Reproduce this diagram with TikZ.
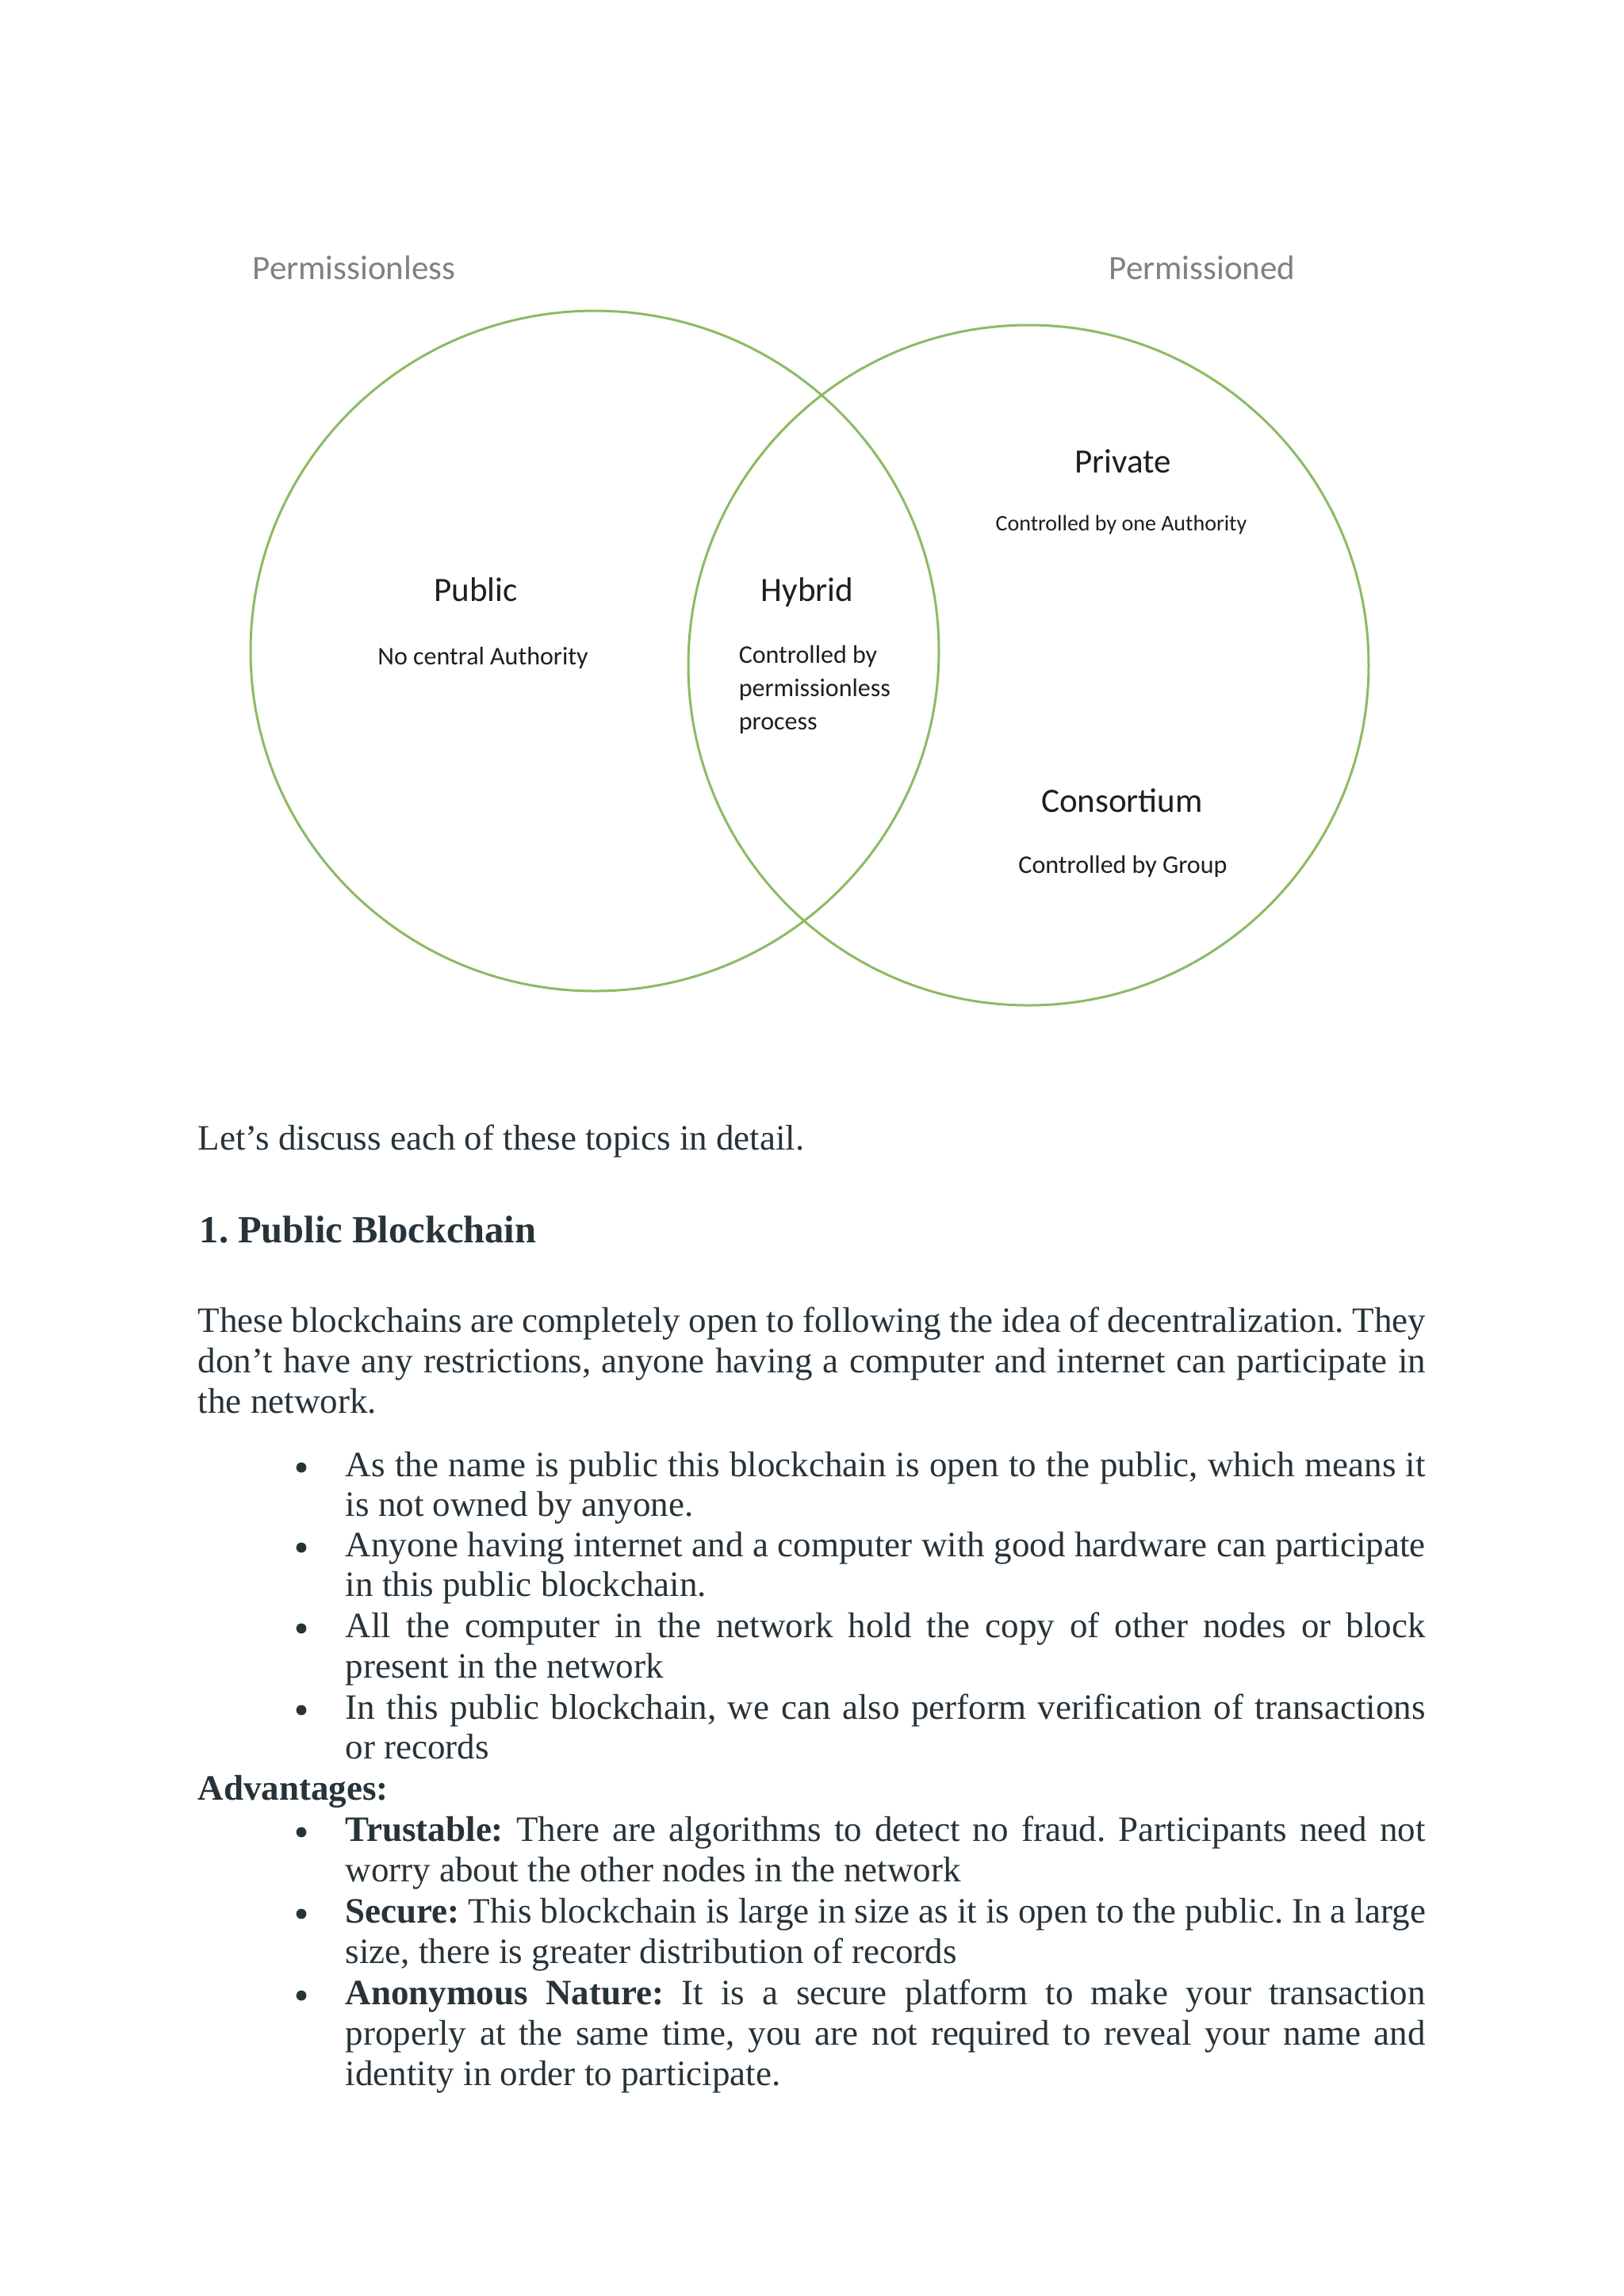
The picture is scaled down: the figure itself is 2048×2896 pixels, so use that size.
\documentclass[tikz,border=0pt]{standalone}
\usepackage{fontspec}
\setmainfont{Liberation Serif}
\newfontfamily\vennfont{Carlito}
\definecolor{gfgtext}{HTML}{273239}
\definecolor{venngreen}{HTML}{8CBB63}
\definecolor{venngray}{HTML}{808080}
\definecolor{venntext}{HTML}{1E1E1E}
\frenchspacing
\begin{document}
\frenchspacing
\begin{tikzpicture}[x=0.25pt,y=-0.25pt,
  body/.style={inner sep=0pt, anchor=base west, text=gfgtext, font=\fontsize{11.25}{12.8}\selectfont},
  heading/.style={inner sep=0pt, anchor=base west, text=gfgtext, font=\fontsize{12.125}{14}\selectfont\bfseries},
  bul/.style={circle, fill=gfgtext, inner sep=0pt, minimum size=3.2pt},
  vgray/.style={inner sep=0pt, anchor=base west, text=venngray, font=\vennfont\fontsize{10.75}{12}\selectfont},
  vhead/.style={inner sep=0pt, anchor=base, text=venntext, font=\vennfont\fontsize{10.75}{12}\selectfont},
  vsmall/.style={inner sep=0pt, anchor=base, text=venntext, font=\vennfont\fontsize{8}{10}\selectfont},
  vring/.style={draw=venngreen, line width=0.75pt}]
\useasboundingbox (0,0) rectangle (2048,2896);
\fill[white] (0,0) rectangle (2048,2896);

% Venn diagram
\draw[vring] (750,821) ellipse [x radius=108.5pt, y radius=107.25pt];
\draw[vring] (1297,839) circle [radius=107.25pt];

\node[vgray] (permless) at (318,352) {Permissionless};
\node[vgray] (permed) at (1398,352) {Permissioned};

\node[vhead] (public) at (600,758) {Public};
\node[vsmall] (publicdesc) at (609,838) {No central Authority};

\node[vhead] (hybrid) at (1018,758) {Hybrid};
\node[vsmall, anchor=base west] (hyb1) at (931,836) {Controlled by};
\node[vsmall, anchor=base west] (hyb2) at (931,878) {permissionless};
\node[vsmall, anchor=base west] (hyb3) at (931,920) {process};

\node[vhead] (private) at (1416,596) {Private};
\node[vsmall, font=\vennfont\fontsize{7}{9}\selectfont] (privdesc) at (1414,669) {Controlled by one Authority};
\node[vhead] (consort) at (1415,1024) {Consortium};
\node[vsmall] (consdesc) at (1416,1101) {Controlled by Group};

% Text
\node[body] (intro) at (249,1450) {Let’s discuss each of these topics in detail.};
\node[heading] (head) at (251,1567) {1. Public Blockchain};

\node[body] (p1) at (249,1680) {\makebox[387pt][s]{These blockchains are completely open to following the idea of decentralization. They}};
\node[body] (p2) at (249,1731) {\makebox[387pt][s]{don’t have any restrictions, anyone having a computer and internet can participate in}};
\node[body] (p3) at (249,1782) {the network.};

\node[bul] (bu1) at (380,1851) {};
\node[body] (l1a) at (435,1862) {\makebox[340.5pt][s]{As the name is public this blockchain is open to the public, which means it}};
\node[body] (l1b) at (435,1912) {is not owned by anyone.};
\node[bul] (bu2) at (380,1952) {};
\node[body] (l2a) at (435,1963) {\makebox[340.5pt][s]{Anyone having internet and a computer with good hardware can participate}};
\node[body] (l2b) at (435,2013) {in this public blockchain.};
\node[bul] (bu3) at (380,2054) {};
\node[body] (l3a) at (435,2065) {\makebox[340.5pt][s]{All the computer in the network hold the copy of other nodes or block}};
\node[body] (l3b) at (435,2116) {present in the network};
\node[bul] (bu4) at (380,2157) {};
\node[body] (l4a) at (435,2168) {\makebox[340.5pt][s]{In this public blockchain, we can also perform verification of transactions}};
\node[body] (l4b) at (435,2218) {or records};

\node[body] (adv) at (249,2270) {\textbf{Advantages:}};

\node[bul] (bu5) at (380,2311) {};
\node[body] (a1a) at (435,2322) {\makebox[340.5pt][s]{\textbf{Trustable:} There are algorithms to detect no fraud. Participants need not}};
\node[body] (a1b) at (435,2373) {worry about the other nodes in the network};
\node[bul] (bu6) at (380,2414) {};
\node[body] (a2a) at (435,2425) {\makebox[340.5pt][s]{\textbf{Secure:} This blockchain is large in size as it is open to the public. In a large}};
\node[body] (a2b) at (435,2476) {size, there is greater distribution of records};
\node[bul] (bu7) at (380,2517) {};
\node[body] (a3a) at (435,2528) {\makebox[340.5pt][s]{\textbf{Anonymous Nature:} It is a secure platform to make your transaction}};
\node[body] (a3b) at (435,2579) {\makebox[340.5pt][s]{properly at the same time, you are not required to reveal your name and}};
\node[body] (a3c) at (435,2630) {identity in order to participate.};
\end{tikzpicture}
\end{document}
